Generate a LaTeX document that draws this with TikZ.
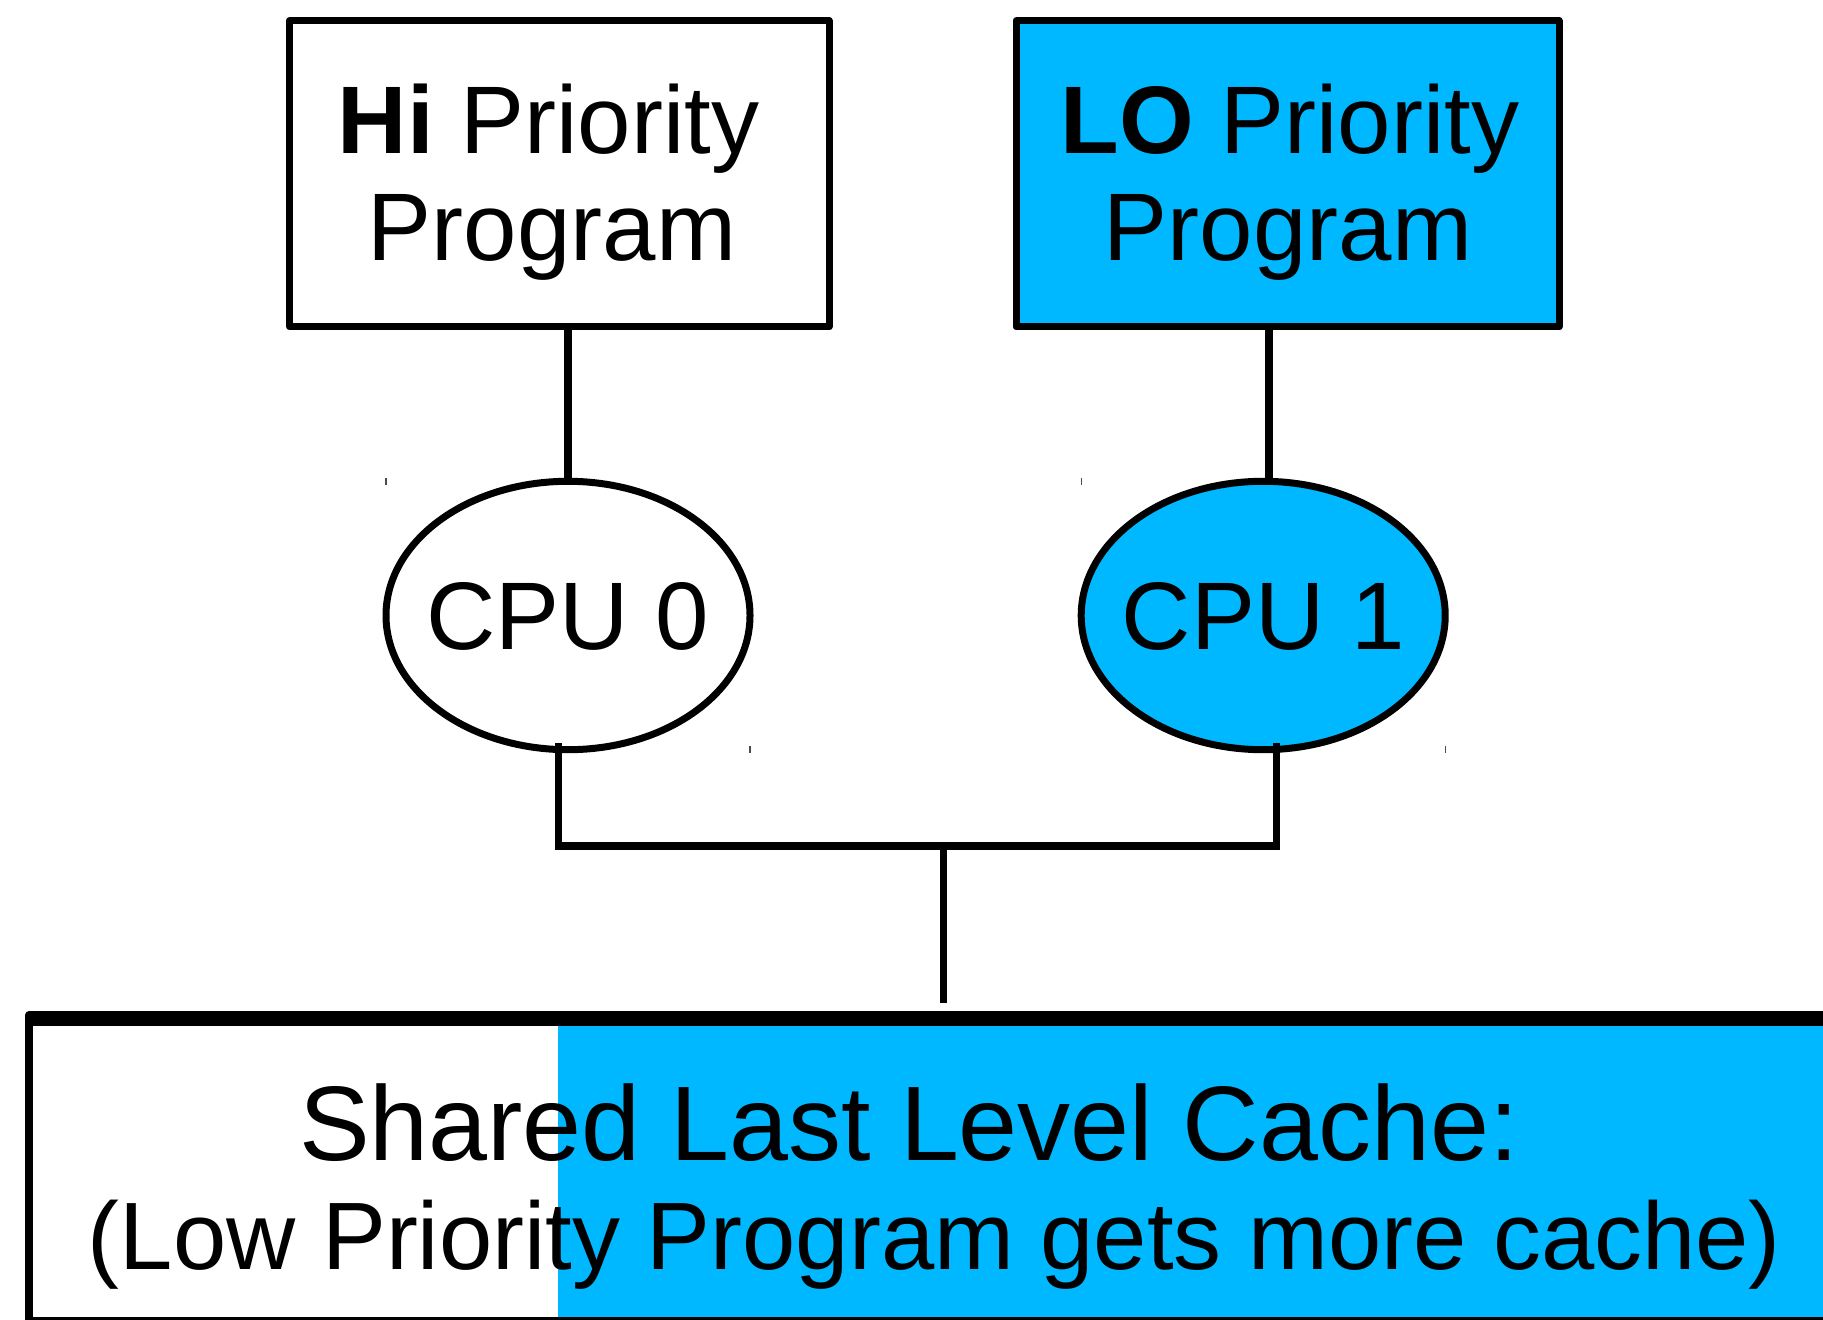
\documentclass[tikz,border=0pt]{standalone}
\usepackage{fontspec}
\setmainfont{Liberation Sans}
\usetikzlibrary{shapes.geometric,calc}
\definecolor{loblue}{RGB}{0,184,255}
\begin{document}
\begin{tikzpicture}[x=0.5pt,y=-0.5pt,
  every node/.style={outer sep=0pt},
  progbox/.style={rectangle, draw=black, line width=3.5pt, line join=round,
    inner sep=0pt, minimum height=153.15pt},
  cpunode/.style={ellipse, draw=black, line width=3.5pt, inner sep=0pt,
    minimum width=182pt, minimum height=134.2pt},
  wire/.style={draw=black, line width=3.8pt},
  lbl/.style={inner sep=0pt, anchor=base, font=\fontsize{48pt}{56pt}\selectfont},
  cachelbl/.style={inner sep=0pt, anchor=base},
  tickmark/.style={draw=black!70, line width=0.7pt}]

\useasboundingbox (0,0) rectangle (1823,1320);
\clip (0,0) rectangle (1823,1320);
\fill[white] (0,0) rectangle (1823,1320);

% program boxes
\node[progbox, fill=white, minimum width=269.7pt] (hibox) at (559.3,173.85) {};
\node[progbox, fill=loblue, minimum width=271.5pt] (lobox) at (1287.5,173.85) {};
\node[lbl] (hiA) at (548.5,154) {\textbf{Hi} Priority};
\node[lbl] (hiB) at (552,261) {Program};
\node[lbl] (loA) at (1290,154) {\textbf{LO} Priority};
\node[lbl] (loB) at (1288,261) {Program};

% processors
\node[cpunode, fill=white] (cpu0) at (568,615.5) {};
\node[cpunode, fill=loblue] (cpu1) at (1263.2,615.5) {};
\node[lbl] (cpu0lbl) at ($(cpu0.center)+(0,33.8)$) {CPU 0};
\node[lbl] (cpu1lbl) at ($(cpu1.center)+(0,33.8)$) {CPU 1};

% connection points
\coordinate (tap0) at ($(cpu0.south)+(-9.7,-6.7)$);
\coordinate (tap1) at ($(cpu1.south)+(13.1,-6.7)$);
\coordinate (lotap) at ($(cpu1.north)+(5.5,0)$);
\coordinate (drop) at (943.3,846);
\coordinate (bus0) at (tap0 |- drop);
\coordinate (bus1) at (tap1 |- drop);

% shared cache, split between the two programs
\node[rectangle, draw=black, line width=4pt, line join=round, fill=white,
  inner sep=0pt, minimum width=905.35pt, minimum height=153pt] (cache) at (934.65,1168) {};
\fill[loblue] (tap0 |- cache.north) ++(0,11.3) rectangle ([yshift=2pt]cache.south east);
\draw[line width=3.75pt] ([yshift=-3.75pt]cache.north west) -- ([yshift=-3.75pt]cache.north east);
\node[cachelbl, font=\fontsize{53pt}{60pt}\selectfont] (cacheA) at (909,1160) {Shared Last Level Cache:};
\node[cachelbl, font=\fontsize{47.9pt}{56pt}\selectfont] (cacheB) at (934.5,1269) {(Low Priority Program gets more cache)};

% connectors
\draw[wire] (hibox.south -| cpu0.north) -- (cpu0.north);
\draw[wire] (lobox.south -| lotap) -- (lotap);
\draw[wire] (tap0) -- ([yshift=-1.9pt]bus0);
\draw[wire] (tap1) -- ([yshift=-1.9pt]bus1);
\draw[wire] (bus0) -- (bus1);
\draw[wire, shorten >=6.15pt] (drop) -- (drop |- cache.north);

% small corner marks of the processor frames
\draw[tickmark] ($(cpu0.west |- cpu0.north)+(0,-3.3)$) -- ++(0,7);
\draw[tickmark] ($(cpu0.east |- cpu0.south)+(0,-3.7)$) -- ++(0,7);
\draw[tickmark] ($(cpu1.west |- cpu1.north)+(0,-3.3)$) -- ++(0,7);
\draw[tickmark] ($(cpu1.east |- cpu1.south)+(0,-3.7)$) -- ++(0,7);
\end{tikzpicture}
\end{document}
